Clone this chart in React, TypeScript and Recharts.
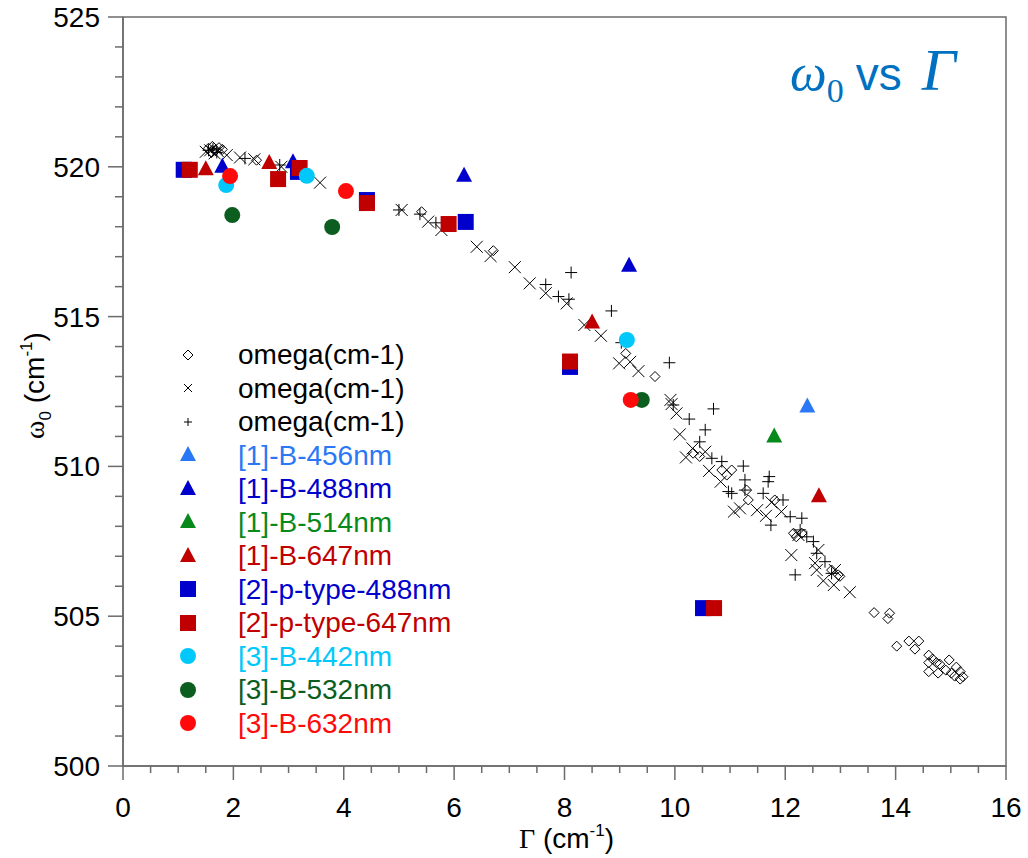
import { ScatterChart, Scatter, XAxis, YAxis, Legend, Label, ReferenceArea } from "recharts";

// axis ticks (minor + major) and the labelled ones
const xTicks = [0, 0.5, 1, 1.5, 2, 2.5, 3, 3.5, 4, 4.5, 5, 5.5, 6, 6.5, 7, 7.5, 8, 8.5, 9, 9.5, 10, 10.5, 11, 11.5, 12, 12.5, 13, 13.5, 14, 14.5, 15, 15.5, 16];
const yTicks = [500, 501, 502, 503, 504, 505, 506, 507, 508, 509, 510, 511, 512, 513, 514, 515, 516, 517, 518, 519, 520, 521, 522, 523, 524, 525];
const xLabels = [0, 2, 4, 6, 8, 10, 12, 14, 16];
const yLabels = [500, 505, 510, 515, 520, 525];

// [gamma, omega] pairs
const omegaDiamond = [
    [1.55, 520.62], [1.62, 520.68], [1.68, 520.55], [1.74, 520.64], [1.8, 520.58], [1.6, 520.5], [2.42, 520.22],
    [5.41, 518.5], [6.71, 517.2], [9.11, 513.77], [9.64, 513.0], [10.33, 510.44], [10.45, 510.33], [10.85, 509.88],
    [10.94, 509.71], [11.03, 509.88], [11.3, 509.21], [11.33, 508.88], [11.81, 508.88], [12.15, 507.77], [12.2, 507.65],
    [12.3, 507.77], [12.84, 506.54], [12.96, 506.38], [12.99, 506.33], [13.61, 505.12], [13.89, 505.1], [13.86, 504.92],
    [14.02, 504.0], [14.24, 504.17], [14.42, 504.17], [14.35, 503.9], [14.6, 503.7], [14.67, 503.57], [14.6, 503.45],
    [14.74, 503.45], [14.8, 503.4], [14.97, 503.54], [14.6, 503.15], [14.77, 503.1], [14.91, 503.2], [15.01, 503.1],
    [15.1, 503.3], [15.17, 503.15], [15.07, 503.0], [15.22, 502.98], [15.17, 502.9],
];
const omegaCross = [
    [1.5, 520.5], [1.58, 520.55], [1.66, 520.45], [1.72, 520.52], [1.88, 520.39], [2.12, 520.31], [2.38, 520.25],
    [2.87, 520.0], [3.57, 519.47], [5.05, 518.56], [5.53, 518.17], [5.77, 517.89], [6.41, 517.33], [6.66, 517.02],
    [7.1, 516.65], [7.37, 516.11], [7.66, 515.78], [8.04, 515.44], [8.36, 514.72], [8.66, 514.36], [8.99, 513.44],
    [9.19, 513.49], [9.34, 513.18], [9.92, 512.22], [9.94, 512.08], [10.03, 511.77], [10.09, 511.07], [10.32, 510.6],
    [10.2, 510.3], [10.55, 510.49], [10.62, 509.85], [10.83, 509.49], [11.07, 508.49], [11.18, 508.6], [11.49, 508.54],
    [11.65, 508.35], [11.75, 508.8], [11.93, 508.49], [12.24, 507.71], [12.11, 507.04], [12.6, 507.21], [12.54, 506.77],
    [12.57, 506.54], [12.9, 506.54], [12.69, 506.18], [12.88, 506.04], [13.17, 505.8],
];
const omegaPlus = [
    [1.55, 520.55], [1.63, 520.6], [1.7, 520.48], [2.21, 520.28], [2.84, 520.06], [5.0, 518.56], [5.38, 518.42],
    [5.67, 518.13], [7.66, 516.07], [7.89, 515.67], [8.08, 515.58], [8.12, 516.47], [8.85, 515.19], [9.03, 514.13],
    [9.9, 513.46], [9.97, 512.05], [10.26, 511.58], [10.7, 511.92], [10.55, 511.22], [10.45, 510.82], [10.67, 510.27],
    [10.85, 510.16], [11.24, 510.01], [10.97, 509.16], [11.03, 509.1], [11.27, 509.55], [11.27, 509.21], [11.6, 509.1],
    [11.71, 509.66], [11.69, 509.49], [11.74, 508.04], [11.96, 508.88], [12.09, 508.32], [12.3, 508.27], [12.27, 507.88],
    [12.39, 507.65], [12.51, 507.49], [12.57, 507.1], [12.18, 506.38], [12.72, 506.82], [12.84, 506.43],
];
const ref1B456 = [[12.4, 512.0]];
const ref1B488 = [[1.8, 520.0], [3.08, 520.15], [6.18, 519.7], [9.17, 516.7]];
const ref1B514 = [[11.8, 511.0]];
const ref1B647 = [[1.5, 519.92], [2.65, 520.13], [8.5, 514.8], [12.61, 509.0]];
const ref2P488 = [[1.1, 519.9], [3.17, 519.83], [4.42, 518.89], [6.21, 518.16], [8.1, 513.32], [10.51, 505.27]];
const ref2P647 = [[1.21, 519.9], [2.81, 519.59], [3.2, 519.96], [4.42, 518.79], [5.9, 518.09], [8.1, 513.5], [10.71, 505.27]];
const ref3B442 = [[1.87, 519.39], [3.33, 519.7], [9.13, 514.22]];
const ref3B532 = [[1.98, 518.39], [3.79, 517.99], [9.4, 512.22]];
const ref3B632 = [[1.94, 519.69], [4.04, 519.19], [9.2, 512.22]];

const AXIS = "#6b6b6b";
const FONT = "'Liberation Sans', Arial, sans-serif";
const SERIF = "'Liberation Serif', 'Times New Roman', serif";

const series = [
    { name: "omega(cm-1)", data: omegaDiamond, kind: "diamond", color: "#000000" },
    { name: "omega(cm-1)", data: omegaCross, kind: "cross", color: "#000000" },
    { name: "omega(cm-1)", data: omegaPlus, kind: "plus", color: "#000000" },
    { name: "[1]-B-456nm", data: ref1B456, kind: "triangle", color: "#2a78f5" },
    { name: "[1]-B-488nm", data: ref1B488, kind: "triangle", color: "#0000cc" },
    { name: "[1]-B-514nm", data: ref1B514, kind: "triangle", color: "#08891c" },
    { name: "[1]-B-647nm", data: ref1B647, kind: "triangle", color: "#c00000" },
    { name: "[2]-p-type-488nm", data: ref2P488, kind: "square", color: "#0000cc" },
    { name: "[2]-p-type-647nm", data: ref2P647, kind: "square", color: "#c00000" },
    { name: "[3]-B-442nm", data: ref3B442, kind: "circle", color: "#00c8fa" },
    { name: "[3]-B-532nm", data: ref3B532, kind: "circle", color: "#0b5e1f" },
    { name: "[3]-B-632nm", data: ref3B632, kind: "circle", color: "#ff0a0a" },
];

function marker(kind: string, cx: number, cy: number, color: string, small = false) {
    const a = small ? 4 : 6;
    switch (kind) {
        case "diamond":
            return <path d={`M${cx},${cy - 5}L${cx + 5},${cy}L${cx},${cy + 5}L${cx - 5},${cy}Z`} fill="none" stroke={color} strokeWidth={1} />;
        case "cross":
            return <path d={`M${cx - a},${cy - a}L${cx + a},${cy + a}M${cx - a},${cy + a}L${cx + a},${cy - a}`} stroke={color} strokeWidth={1} />;
        case "plus":
            return <path d={`M${cx - a},${cy}L${cx + a},${cy}M${cx},${cy - a}L${cx},${cy + a}`} stroke={color} strokeWidth={1} />;
        case "triangle":
            return <path d={`M${cx},${cy - 9}L${cx + 8},${cy + 6}L${cx - 8},${cy + 6}Z`} fill={color} />;
        case "square":
            return <rect x={cx - 8} y={cy - 8} width={16} height={16} fill={color} />;
        default:
            return <circle cx={cx} cy={cy} r={8} fill={color} />;
    }
}

const XTick = ({ x, y, payload }: any) => {
    const major = xLabels.includes(payload.value);
    return (
        <g>
            <line x1={x} x2={x} y1={y} y2={y + (major ? 14 : 7)} stroke={AXIS} strokeWidth={1.5} />
            {major && (
                <text x={x} y={y + 51} textAnchor="middle" fontSize={28} fontFamily={FONT} fill="#000">{payload.value}</text>
            )}
        </g>
    );
};

const YTick = ({ x, y, payload }: any) => {
    const major = yLabels.includes(payload.value);
    return (
        <g>
            <line x1={x} x2={x - (major ? 15 : 8)} y1={y} y2={y} stroke={AXIS} strokeWidth={1.5} />
            {major && (
                <text x={x - 23} y={y + 10} textAnchor="end" fontSize={28} fontFamily={FONT} fill="#000">{payload.value}</text>
            )}
        </g>
    );
};

const XTitle = ({ viewBox }: any) => {
    const cx = viewBox.x + viewBox.width / 2 + 2;
    return (
        <text x={cx} y={viewBox.y + 82} textAnchor="middle" fontSize={28} fontFamily={FONT} fill="#000">
            <tspan fontFamily={SERIF}>Γ</tspan>
            <tspan> (cm</tspan>
            <tspan fontSize={17} dy={-12}>-1</tspan>
            <tspan dy={12}>)</tspan>
        </text>
    );
};

const YTitle = ({ viewBox }: any) => {
    const cx = 44;
    const cy = viewBox.y + viewBox.height / 2 - 6;
    return (
        <text x={cx} y={cy} transform={`rotate(-90, ${cx}, ${cy})`} textAnchor="middle" fontSize={28} fontFamily={FONT} fill="#000">
            <tspan fontFamily={SERIF}>ω</tspan>
            <tspan fontSize={17} dy={7}>0</tspan>
            <tspan dy={-7}> (cm</tspan>
            <tspan fontSize={17} dy={-12}>-1</tspan>
            <tspan dy={12}>)</tspan>
        </text>
    );
};

const LegendBox = () => (
    <div style={{ fontFamily: FONT, fontSize: 28 }}>
        {series.map((s, i) => (
            <div key={i} style={{ display: "flex", alignItems: "center", height: 33.5 }}>
                <svg width={36} height={24} style={{ marginRight: 32 }}>
                    {marker(s.kind, 18, 12, s.color, true)}
                </svg>
                <span style={{ color: s.color, lineHeight: "33.5px", whiteSpace: "nowrap" }}>{s.name}</span>
            </div>
        ))}
    </div>
);

export default function App() {
    return (
        <div style={{ position: "absolute", left: 0, top: 0, background: "#fff" }}>
            <ScatterChart width={1028} height={858} margin={{ top: 17, right: 22, bottom: 0, left: 0 }}>
                <XAxis
                    type="number"
                    dataKey="x"
                    domain={[0, 16]}
                    ticks={xTicks}
                    interval={0}
                    tickSize={0}
                    tickMargin={0}
                    tick={XTick}
                    height={92}
                    axisLine={{ stroke: AXIS, strokeWidth: 1.5 }}
                >
                    <Label content={XTitle} />
                </XAxis>
                <YAxis
                    type="number"
                    dataKey="y"
                    domain={[500, 525]}
                    ticks={yTicks}
                    interval={0}
                    tickSize={0}
                    tickMargin={0}
                    tick={YTick}
                    width={123}
                    axisLine={{ stroke: AXIS, strokeWidth: 1.5 }}
                >
                    <Label content={YTitle} />
                </YAxis>
                <ReferenceArea x1={0} x2={16} y1={500} y2={525} fill="none" stroke={AXIS} strokeWidth={1.5} />
                {series.map((s, i) => (
                    <Scatter
                        key={i}
                        name={s.name}
                        data={s.data.map(([x, y]) => ({ x, y }))}
                        isAnimationActive={false}
                        shape={(p: any) => marker(s.kind, p.cx, p.cy, s.color)}
                    />
                ))}
                <Legend
                    layout="vertical"
                    align="center"
                    verticalAlign="middle"
                    content={LegendBox}
                    wrapperStyle={{ position: "absolute", left: 170, top: 338, width: 340 }}
                />
                <text x={790} y={90} fill="#0070c0">
                    <tspan fontFamily={SERIF} fontStyle="italic" fontSize={52}>ω</tspan>
                    <tspan fontFamily={SERIF} fontSize={34} dy={12}>0</tspan>
                    <tspan fontFamily={FONT} fontSize={46} dx={12} dy={-12}>vs</tspan>
                    <tspan fontFamily={SERIF} fontStyle="italic" fontSize={60} dx={20}>Γ</tspan>
                </text>
            </ScatterChart>
        </div>
    );
}
